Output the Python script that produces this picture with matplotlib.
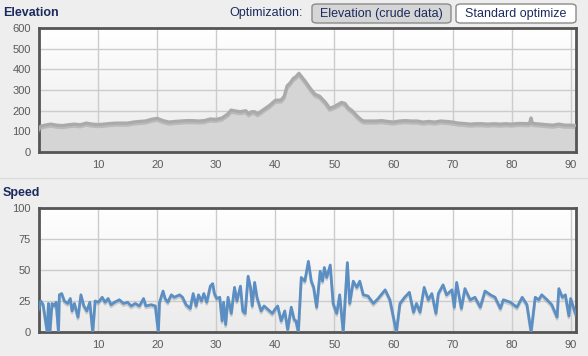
import numpy as np
import matplotlib.pyplot as plt
import matplotlib.patheffects as pe
from matplotlib.patches import FancyBboxPatch

plt.rcParams['font.family'] = ['Liberation Sans', 'DejaVu Sans']

# Elevation profile (km, m)
elev_km = [0, 0.3, 1, 2, 3, 4, 5, 6, 7, 8, 9, 10, 11, 12, 13, 14, 15, 16, 17, 18,
           19, 20, 21, 22, 23, 24, 25, 26, 27, 28, 29, 30, 31, 32, 32.5, 33, 34, 35,
           35.5, 36, 36.5, 37, 38, 39, 40, 41, 41.5, 42, 42.5, 43, 43.5, 44, 45, 46,
           46.7, 47.5, 48.5, 49.2, 50, 51.2, 51.8, 52.3, 53, 54, 54.6, 55, 56, 57, 58,
           59, 60, 61, 62, 63, 64, 65, 66, 67, 68, 69, 70, 71, 72, 73, 74, 75, 76, 77,
           78, 79, 80, 81, 82, 83, 83.3, 83.5, 84, 85, 86, 87, 88, 89, 90, 90.9]
elev_m = [110, 125, 130, 135, 130, 128, 132, 135, 132, 140, 135, 133, 135, 138, 140,
          140, 140, 145, 148, 150, 158, 163, 152, 145, 148, 150, 152, 152, 150, 152,
          160, 158, 165, 185, 203, 200, 195, 200, 185, 195, 195, 185, 205, 225, 250,
          252, 270, 320, 334, 355, 365, 381, 345, 305, 280, 270, 240, 212, 220, 240,
          235, 215, 200, 170, 155, 150, 150, 150, 152, 148, 145, 150, 152, 150, 150,
          145, 148, 145, 150, 148, 145, 140, 138, 135, 137, 137, 135, 137, 135, 137,
          135, 138, 138, 137, 165, 140, 137, 135, 132, 130, 135, 130, 130, 128]

# Speed profile (km, km/h)
speed_km = [0, 0.3, 0.7, 1.4, 1.6, 1.85, 2.2, 2.6, 2.9, 3.3, 3.45, 3.85, 4.3, 4.85,
            5.3, 5.6, 6.0, 6.6, 7.1, 7.6, 8.1, 8.6, 9.1, 9.5, 10.05, 10.7, 11.2, 11.7,
            12.2, 12.8, 13.6, 14.3, 15, 15.6, 16.3, 17, 17.7, 18.1, 19, 19.7, 20.2,
            20.4, 21, 21.35, 21.8, 22.4, 22.9, 23.8, 24.3, 24.9, 25.6, 26.1, 26.6, 27,
            27.5, 27.9, 28.4, 29, 29.4, 29.7, 30.1, 30.6, 31, 31.25, 31.6, 32, 32.3,
            32.55, 33.1, 33.5, 34.1, 34.5, 34.9, 35.4, 35.8, 36.1, 36.5, 36.9, 37.6,
            38.1, 38.8, 39.5, 39.9, 40.4, 41.0, 41.6, 42.1, 42.7, 43.2, 43.5, 43.9,
            44.4, 45, 45.6, 46.1, 46.5, 47, 47.6, 48, 48.3, 48.7, 49.3, 49.8, 50.4,
            50.9, 51.5, 52.2, 52.6, 53.2, 53.8, 54.3, 54.9, 55.7, 56.6, 57.4, 58.6,
            59.4, 60.5, 61.1, 61.9, 62.7, 63.4, 63.9, 64.5, 65.2, 65.9, 66.5, 67.2,
            67.6, 68.4, 69, 69.9, 70.3, 70.7, 71.5, 72.1, 73, 73.8, 74.7, 75.5, 76.4,
            77.2, 78.1, 78.6, 79.8, 80.9, 81.8, 82.6, 83.3, 84, 84.6, 85.1, 86, 86.8,
            87.7, 88, 88.6, 89.1, 89.7, 90, 90.8]
speed_kmh = [19, 25, 22, 0, 23, 0, 23, 21, 24, 0, 30, 31, 25, 23, 27, 17, 23, 12, 30,
             21, 17, 24, 0, 25, 24, 28, 24, 27, 22, 24, 26, 23, 24, 21, 23, 21, 27, 21,
             22, 21, 0, 24, 33, 27, 24, 30, 28, 30, 28, 22, 19, 31, 21, 30, 25, 31, 24,
             37, 39, 31, 27, 28, 9, 24, 6, 28, 21, 15, 36, 25, 37, 17, 15, 45, 36, 21,
             40, 28, 17, 21, 18, 15, 18, 21, 9, 17, 2, 20, 10, 9, 0, 44, 41, 57, 41,
             36, 20, 49, 41, 52, 44, 54, 23, 15, 30, 0, 56, 23, 41, 36, 41, 30, 29, 23,
             27, 34, 26, 0, 23, 28, 32, 16, 23, 16, 36, 26, 31, 15, 31, 38, 30, 34, 20,
             40, 19, 35, 26, 28, 20, 33, 30, 28, 19, 26, 24, 20, 28, 22, 0, 28, 26, 30,
             26, 22, 12, 35, 28, 30, 13, 27, 15]

xticks = [10, 20, 30, 40, 50, 60, 70, 80, 90]
xmax = 90.9

fig = plt.figure(figsize=(5.88, 3.56), dpi=100)
fig.patch.set_facecolor('#eeeeee')

ax1 = fig.add_axes([39 / 588, 1 - 152 / 356, 537 / 588, 124 / 356])
ax2 = fig.add_axes([39 / 588, 1 - 332 / 356, 537 / 588, 124 / 356])

grad = np.linspace(1, 0, 100).reshape(-1, 1)
for ax in (ax1, ax2):
    ax.imshow(grad, extent=[0, 1, 0, 1], transform=ax.transAxes, aspect='auto',
              cmap=plt.matplotlib.colors.LinearSegmentedColormap.from_list(
                  'bg', ['#ebebeb', '#ffffff']), zorder=0)
    ax.set_xlim(0, xmax)
    ax.set_xticks(xticks)
    ax.grid(True, color='#cccccc', linewidth=1)
    ax.set_axisbelow(True)
    for s in ax.spines.values():
        s.set_color('#555555')
        s.set_linewidth(2)
    ax.tick_params(length=0, labelsize=8, labelcolor='#5a5a5a', pad=6)
    ax.set_facecolor('none')

shadow = [pe.SimpleLineShadow(offset=(0, -1.5), shadow_color='#888888', alpha=0.35),
          pe.Normal()]

ax1.fill_between(elev_km, elev_m, 0, color='#d5d5d5', zorder=2)
ax1.plot(elev_km, elev_m, color='#aaaaaa', linewidth=2.3, zorder=3, path_effects=shadow)
ax1.set_ylim(0, 600)
ax1.set_yticks([0, 100, 200, 300, 400, 500, 600])

ax2.plot(speed_km, speed_kmh, color='#5b8fc4', linewidth=2.0, zorder=3, path_effects=shadow)
ax2.set_ylim(0, 100)
ax2.set_yticks([0, 25, 50, 75, 100])

navy = '#1c2b5e'
fig.text(3 / 588, 1 - 13 / 356, 'Elevation', fontsize=9, fontweight='bold',
         color=navy, va='center', ha='left')
fig.text(3 / 588, 1 - 193 / 356, 'Speed', fontsize=9, fontweight='bold',
         color=navy, va='center', ha='left')
fig.text(303 / 588, 1 - 13 / 356, 'Optimization:', fontsize=9, color=navy,
         va='center', ha='right')

fig.add_artist(plt.Line2D([0, 1], [1 - 178 / 356, 1 - 178 / 356], color='#dcdcdc',
                          linewidth=1, transform=fig.transFigure))

buttons = [('Elevation (crude data)', 312, 451, '#d6d6d6'),
           ('Standard optimize', 456, 576, '#ffffff')]
for label, x0, x1, fc in buttons:
    box = FancyBboxPatch((x0 / 588, 1 - 23 / 356), (x1 - x0) / 588, 19 / 356,
                         boxstyle='round,pad=0,rounding_size=0.008',
                         transform=fig.transFigure, facecolor=fc,
                         edgecolor='#8a8a8a', linewidth=1)
    fig.add_artist(box)
    fig.text((x0 + x1) / 2 / 588, 1 - 13.5 / 356, label, fontsize=9, color=navy,
             ha='center', va='center')

fig.savefig('out.png', dpi=100, facecolor=fig.get_facecolor())
